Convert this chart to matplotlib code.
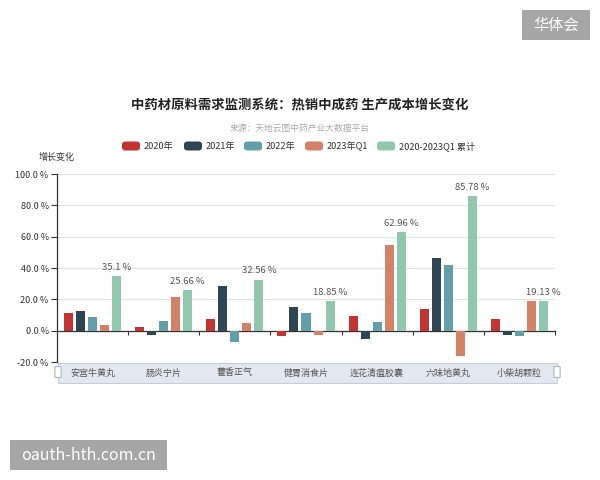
import matplotlib
matplotlib.use("Agg")
import matplotlib.pyplot as plt
from matplotlib.patches import Rectangle, FancyBboxPatch
import matplotlib.transforms as mtransforms

plt.rcParams['font.family'] = ['Noto Sans CJK SC', 'DejaVu Sans']

categories = ["安宫牛黄丸", "肠炎宁片", "藿香正气", "健胃消食片", "连花清瘟胶囊", "六味地黄丸", "小柴胡颗粒"]
series_names = ["2020年", "2021年", "2022年", "2023年Q1", "2020-2023Q1 累计"]
v2020 = [11.2, 2.1, 7.4, -3.6, 9.3, 14.0, 7.2]
v2021 = [12.3, -2.9, 28.4, 15.1, -5.5, 46.6, -2.5]
v2022 = [8.9, 6.0, -7.4, 11.2, 5.5, 42.2, -3.4]
v2023q1 = [3.8, 21.6, 5.1, -2.5, 54.6, -15.9, 18.7]
vtotal = [35.1, 25.66, 32.56, 18.85, 62.96, 85.78, 19.13]
series = [v2020, v2021, v2022, v2023q1, vtotal]
colors = ["#c23531", "#2f4554", "#61a0a8", "#d48265", "#91c7ae"]
yticks = [-20, 0, 20, 40, 60, 80, 100]

W, H = 600, 480
fig = plt.figure(figsize=(6, 4.8), dpi=100)
fig.patch.set_facecolor("white")

def fx(px):
    return px / W

def fy(py):
    return 1 - py / H

ax = fig.add_axes([fx(57), fy(362), fx(555) - fx(57), fy(174) - fy(362)])
ax.set_xlim(-0.5, len(categories) - 0.5)
ax.set_ylim(-20, 100)

bw = 0.127
step = 0.169
for k, (vals, c) in enumerate(zip(series, colors)):
    xs = [i + (k - 2) * step for i in range(len(categories))]
    ax.bar(xs, vals, width=bw, color=c, zorder=3)
    if k == 4:
        for x, v in zip(xs, vals):
            ax.annotate(f"{v:g} %", (x, v), xytext=(0, 3), textcoords="offset points",
                        ha="center", va="bottom", fontsize=6.8, color="#555555", zorder=4)

ax.set_yticks(yticks)
ax.set_yticklabels([f"{t:.1f} %" for t in yticks], fontsize=6.5, color="#333333")
ax.grid(axis="y", color="#e3e3e3", lw=0.8, zorder=0)
ax.set_axisbelow(True)
for s in ["top", "right"]:
    ax.spines[s].set_visible(False)
ax.spines["left"].set_color("#333333")
ax.spines["left"].set_linewidth(0.9)
ax.spines["bottom"].set_position(("data", 0))
ax.spines["bottom"].set_color("#333333")
ax.spines["bottom"].set_linewidth(0.9)
ax.tick_params(axis="y", length=4, width=0.8, color="#333333", pad=2)
ax.set_xticks([i + 0.5 for i in range(len(categories) - 1)] + [len(categories) - 0.5])
ax.set_xticklabels([])
ax.tick_params(axis="x", length=3, width=0.8, color="#333333", direction="out")

# data zoom slider background
slider = Rectangle((fx(58), fy(383)), fx(557) - fx(58), fy(363) - fy(383), transform=fig.transFigure,
                   facecolor="#e2e7f0", edgecolor="#c5cdd9", lw=0.8, zorder=1)
fig.patches.append(slider)
for hx in [58, 557]:
    h = FancyBboxPatch((fx(hx - 2.5), fy(377)), fx(5), fy(367) - fy(377), boxstyle="round,pad=0.001",
                       transform=fig.transFigure, facecolor="#ffffff", edgecolor="#a7b7cc", lw=0.8, zorder=2)
    fig.patches.append(h)

trans = mtransforms.blended_transform_factory(ax.transData, fig.transFigure)
for i, cat in enumerate(categories):
    t = fig.text(0, 0, cat, ha="center", va="center", fontsize=6.5, color="#555555", zorder=5)
    t.set_transform(trans)
    t.set_position((i, fy(373)))

# axis name
fig.text(fx(57), fy(157), "增长变化", ha="center", va="center", fontsize=6.5, color="#333333")

# title & subtitle
fig.text(0.5, fy(105), "中药材原料需求监测系统：热销中成药 生产成本增长变化", ha="center", va="center",
         fontsize=9.6, fontweight="bold", color="#222222")
fig.text(0.5, fy(129), "来源：天地云图中药产业大数据平台", ha="center", va="center",
         fontsize=6.3, color="#aaaaaa")

# legend
leg_x = [122, 184, 244, 305, 377]
for lx, name, c in zip(leg_x, series_names, colors):
    p = FancyBboxPatch((fx(lx), fy(150.5)), fx(18), fy(141.5) - fy(150.5), boxstyle="round,pad=0,rounding_size=0.006",
                       transform=fig.transFigure, facecolor=c, edgecolor="none")
    fig.patches.append(p)
    fig.text(fx(lx + 22), fy(146), name, ha="left", va="center", fontsize=6.6, color="#333333")

# watermarks
fig.patches.append(Rectangle((fx(522), fy(40)), fx(68), fy(10) - fy(40), transform=fig.transFigure,
                             facecolor="#a6a6a6", edgecolor="none"))
fig.text(fx(556), fy(25), "华体会", ha="center", va="center", fontsize=11, color="white")
fig.patches.append(Rectangle((fx(10), fy(470)), fx(157), fy(440) - fy(470), transform=fig.transFigure,
                             facecolor="#a6a6a6", edgecolor="none"))
fig.text(fx(88.5), fy(455), "oauth-hth.com.cn", ha="center", va="center", fontsize=11.5, color="white")

fig.savefig("out.png", dpi=100)
